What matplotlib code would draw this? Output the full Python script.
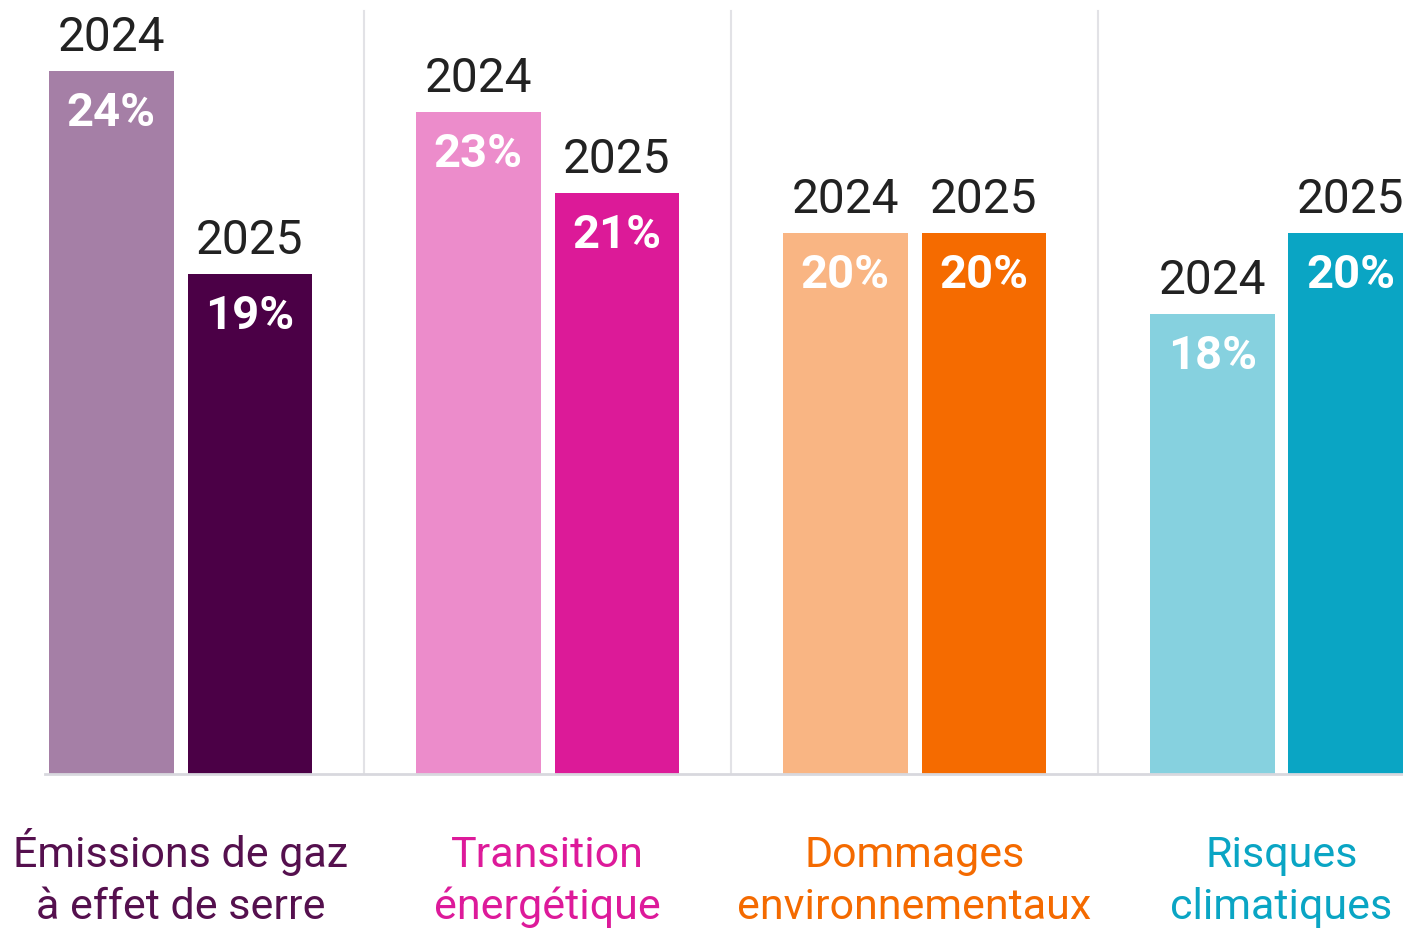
import matplotlib.pyplot as plt
import numpy as np

categories = ['Émissions de gaz\nà effet de serre', 'Transition\nénergétique',
              'Dommages\nenvironnementaux', 'Risques\nclimatiques']
years = ['2024', '2025']
vals_2024 = [24, 23, 20, 18]
vals_2025 = [19, 21, 20, 20]
colors_2024 = ['#a57fa6', '#ec8ccb', '#f9b583', '#86d1df']
colors_2025 = ['#4b0046', '#dc1a98', '#f56b00', '#0aa5c4']
label_colors = ['#55104e', '#dd1a9a', '#f46a00', '#0aa5c4']

plt.rcParams['font.family'] = ['Roboto', 'DejaVu Sans']

fig = plt.figure(figsize=(14.03, 9.29), dpi=100)
ax = fig.add_axes([0, 154/929, 1, 775/929])

x = np.arange(len(categories))
w = 0.34
off = 0.189
ymin, ymax = 6.64, 25.78

for vals, cols, sign, yr in [(vals_2024, colors_2024, -1, years[0]), (vals_2025, colors_2025, 1, years[1])]:
    bars = ax.bar(x + sign*off, vals, width=w, bottom=0, color=cols, zorder=2)
    for b, v in zip(bars, vals):
        cx = b.get_x() + b.get_width()/2
        ax.annotate(yr, (cx, v), xytext=(0, 15), textcoords='offset points',
                    ha='center', va='baseline', fontsize=34.5, color='#222222')
        ax.annotate(f'{v}%', (cx, v), xytext=(0, -39), textcoords='offset points',
                    ha='center', va='baseline', fontsize=34, fontweight='semibold', color='white')

# separators between groups
for s in x[:-1] + 0.5:
    ax.plot([s, s], [ymin, 25.48], color='#e2e2e6', lw=1.5, zorder=1)

# baseline
ax.plot([-0.37, 3.4], [ymin, ymin], color='#d8d8de', lw=2, zorder=3, clip_on=False)

# category labels, one line at a time so baselines line up
for i, (c, lc) in enumerate(zip(categories, label_colors)):
    for j, line in enumerate(c.split('\n')):
        ax.annotate(line, (i, 0), xycoords=('data', 'axes fraction'),
                    xytext=(0, -66 - 38*j), textcoords='offset points',
                    ha='center', va='baseline', fontsize=31, color=lc)

ax.set_xlim(-0.492, 3.331)
ax.set_ylim(ymin, ymax)
ax.axis('off')

fig.savefig('out.png', dpi=100)
